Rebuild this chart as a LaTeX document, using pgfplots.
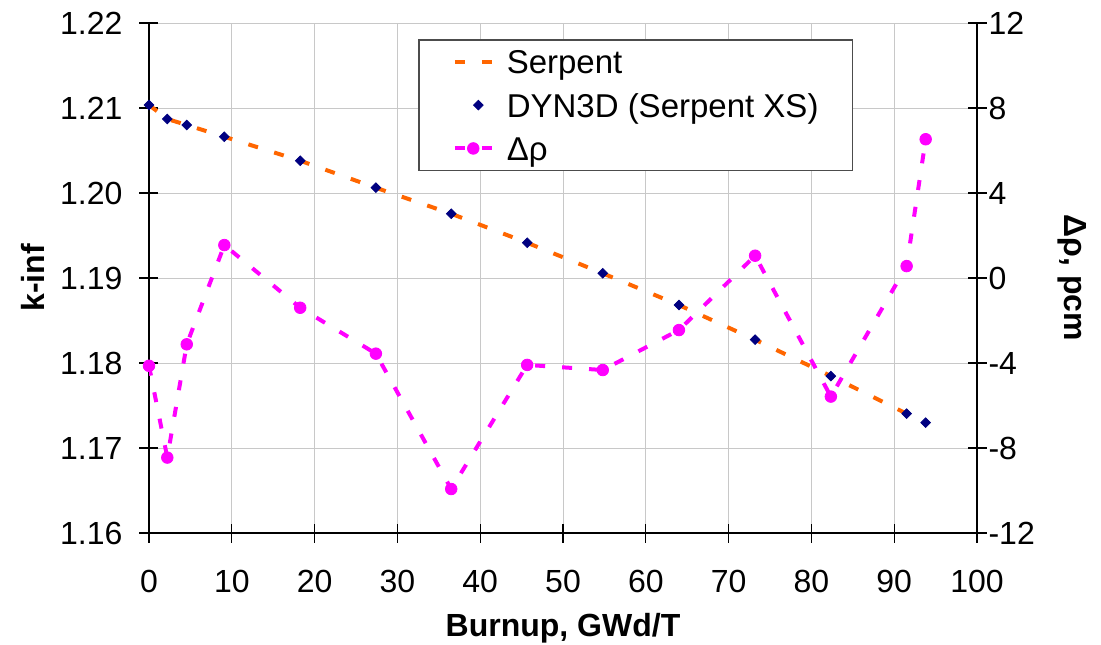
\documentclass[border=0pt]{standalone}
\usepackage{pgfplots}
\pgfplotsset{compat=1.18}
\usepackage{pgfplotstable}
\usepackage{fontspec}
\setmainfont{Liberation Sans}

\definecolor{serpentcol}{RGB}{255,102,0}
\definecolor{dyncol}{RGB}{0,0,128}
\definecolor{drhocol}{RGB}{255,0,255}
\definecolor{gridgray}{RGB}{200,200,200}

% k-inf from the Serpent depletion run
\pgfplotstableread{
bu     k
0      1.21035
2.21   1.20871
4.56   1.20800
9.10   1.20662
18.26  1.20380
27.40  1.20062
36.50  1.19756
45.67  1.19415
54.80  1.19055
64.00  1.18682
73.20  1.18274
82.35  1.17847
91.50  1.17404
}\serpenttab

% k-inf from DYN3D with Serpent cross sections
\pgfplotstableread{
bu     k
0      1.21035
2.21   1.20871
4.56   1.20800
9.10   1.20662
18.26  1.20380
27.40  1.20062
36.50  1.19756
45.67  1.19415
54.80  1.19055
64.00  1.18682
73.20  1.18274
82.35  1.17847
91.50  1.17404
93.80  1.17298
}\dyntab

% reactivity difference, pcm
\pgfplotstableread{
bu     drho
0      -4.13
2.21   -8.45
4.56   -3.12
9.10    1.55
18.26  -1.40
27.40  -3.56
36.50  -9.93
45.67  -4.09
54.80  -4.33
64.00  -2.45
73.20   1.05
82.35  -5.58
91.50   0.56
93.80   6.53
}\drhotab

\pgfplotsset{
  base/.style={
    width=414pt, height=255pt, scale only axis,
    at={(0,0)}, anchor=south west,
    xmin=0, xmax=100,
    tick align=center, major tick length=9.5pt,
    tick style={black, line width=0.6pt},
    axis line style={-, black, line width=0.6pt},
    tick label style={font=\fontsize{16}{19}\selectfont},
    label style={font=\bfseries\fontsize{16}{19}\selectfont},
  },
  linelegend/.style={legend image code/.code={%
    \draw[mark repeat=2, mark phase=2, ##1] plot coordinates {(0pt,0pt) (9.25pt,0pt) (18.5pt,0pt)};}},
  marklegend/.style={legend image code/.code={%
    \draw[##1] plot coordinates {(11.75pt,0pt)};}},
}

\begin{document}
\begin{tikzpicture}
\path[use as bounding box] (-74.5pt,-55.5pt) rectangle (476pt,266.5pt);

\begin{axis}[base,
  axis x line*=bottom, axis y line*=left,
  ymin=1.16, ymax=1.22,
  xtick={0,10,20,30,40,50,60,70,80,90,100},
  xticklabels={0,10,20,30,40,50,60,70,80,90,100},
  ytick={1.16,1.17,1.18,1.19,1.20,1.21,1.22},
  yticklabels={1.16,1.17,1.18,1.19,1.20,1.21,1.22},
  xticklabel style={yshift=-10.5pt},
  yticklabel style={xshift=-5pt},
  grid=major, major grid style={gridgray, line width=0.5pt},
  xlabel={Burnup, GWd/T}, ylabel={k-inf},
  xlabel style={at={(axis description cs:0.5,-0.2039)}, anchor=base},
  ylabel style={at={(axis description cs:-0.1401,0.5)}, anchor=center},
]
\addplot[serpentcol, line width=2pt, dash pattern=on 5pt off 8.5pt, no marks]
  table[x=bu, y=k] {\serpenttab};
\addplot[only marks, mark=square*, mark size=1.7pt, line width=0.4pt,
  mark options={rotate=45, fill=dyncol, draw=dyncol}]
  table[x=bu, y=k] {\dyntab};
\end{axis}

\begin{axis}[base,
  axis x line=none, axis y line*=right,
  ymin=-12, ymax=12,
  ytick={-12,-8,-4,0,4,8,12},
  yticklabels={-12,-8,-4,0,4,8,12},
  yticklabel style={xshift=-2.5pt},
  ylabel={Δρ, pcm},
  ylabel style={at={(axis description cs:1.1147,0.5)}, anchor=center, rotate=180},
  legend cell align=left,
  legend style={at={(0.3249,0.9686)}, anchor=north west,
    draw=black!70, line width=0.75pt, fill=white,
    font=\fontsize{16.5}{19}\selectfont,
    inner xsep=17pt, inner ysep=3pt, row sep=5.67pt,
    nodes={inner sep=0pt, text height=14pt, text depth=2pt},
    /tikz/every odd column/.append style={column sep=6.5pt}},
]
\addlegendimage{serpentcol, line width=2pt, dash pattern=on 5pt off 8.5pt, no marks, linelegend}
\addlegendimage{only marks, mark=square*, mark size=1.7pt, line width=0.4pt,
  mark options={rotate=45, fill=dyncol, draw=dyncol}, marklegend}
\addplot[drhocol, line width=2pt, dash pattern=on 5pt off 8.5pt,
  mark=*, mark size=2.9pt, mark options={solid, fill=drhocol, draw=drhocol, line width=0.4pt}, linelegend]
  table[x=bu, y=drho] {\drhotab};
\legend{Serpent, DYN3D (Serpent XS), Δρ}
\end{axis}
\end{tikzpicture}
\end{document}
